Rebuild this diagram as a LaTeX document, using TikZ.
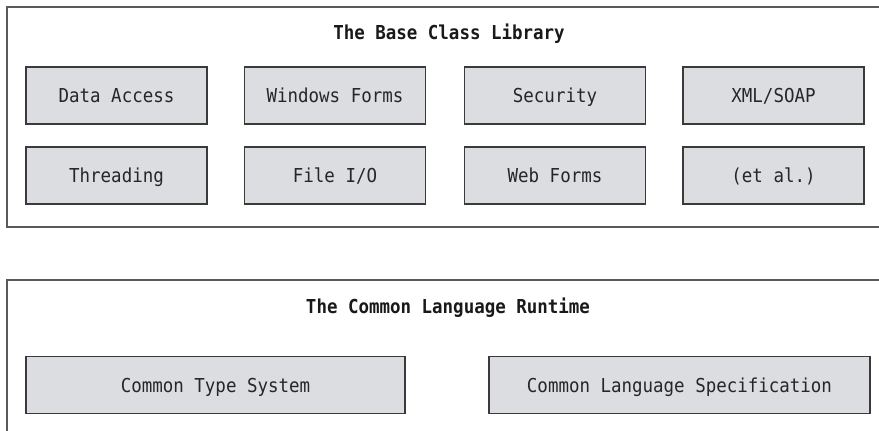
\documentclass[tikz,border=0pt]{standalone}
\usepackage{fontspec}
\setmonofont{DejaVu Sans Mono}[FakeStretch=0.91]
\definecolor{boxfill}{HTML}{DCDDE0}
\definecolor{outerline}{HTML}{5A5A5A}
\definecolor{innerline}{HTML}{3A3A3A}
\tikzset{
  outerbox/.style={draw=outerline, line width=1.3pt},
  libbox/.style={draw=innerline, fill=boxfill, line width=1.2pt, minimum width=181pt, minimum height=57pt, inner sep=0pt, text height=14pt, text depth=0pt, font=\fontsize{19.2pt}{22pt}\ttfamily, text=black!85},
  clrbox/.style={libbox, minimum width=380pt},
  titletext/.style={font=\fontsize{19.2pt}{22pt}\ttfamily\bfseries, text=black!90, inner sep=0pt, text height=14pt, text depth=0pt}
}
\begin{document}
\begin{tikzpicture}[x=1pt,y=-1pt]
\useasboundingbox (0,0) rectangle (879,431);
\clip (0,0) rectangle (879,431);
\fill[white] (0,0) rectangle (879,431);
% outer boxes
\draw[outerbox] (7,7) rectangle (900,227);
\draw[outerbox] (7,280) rectangle (900,450);
% titles
\node[titletext] (bcl) at (449,32) {The Base Class Library};
\node[titletext] (clr) at (448,306.5) {The Common Language Runtime};
% base class library boxes
\node[libbox] (da)  at (116.5,95.5) {Data Access};
\node[libbox] (wf)  at (335,95.5) {Windows Forms};
\node[libbox] (sec) at (555,95.5) {Security};
\node[libbox] (xml) at (773.5,95.5) {XML/SOAP};
\node[libbox] (thr) at (116.5,175.5) {Threading};
\node[libbox] (fio) at (335,175.5) {File I/O};
\node[libbox] (web) at (555,175.5) {Web Forms};
\node[libbox] (eta) at (773.5,175.5) {(et al.)};
% CLR boxes
\node[clrbox, minimum width=379pt] (cts) at (215.5,385) {Common Type System};
\node[clrbox, minimum width=381pt] (cls) at (679.5,385) {Common Language Specification};
\end{tikzpicture}
\end{document}
